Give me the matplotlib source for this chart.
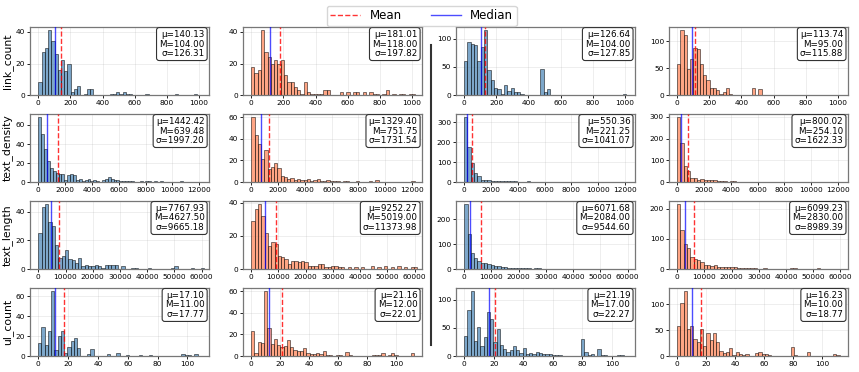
#!/usr/bin/env python

import numpy as np
import matplotlib
matplotlib.use('Agg')
import matplotlib.pyplot as plt
from matplotlib.lines import Line2D
from matplotlib.ticker import MaxNLocator

features = ['link_count', 'text_density', 'text_length', 'ul_count']

# histogram counts, 50 bins per panel (row = feature, col = group)
counts = [
    [
        [8, 27, 30, 41, 34, 26, 16, 22, 15, 20, 2, 4, 6, 0, 1, 4, 4, 0, 0, 0, 0, 0, 1, 1, 2, 1, 2, 1, 1, 0,
         0, 0, 0, 1, 0, 0, 0, 0, 0, 0, 0, 0, 1, 0, 0, 0, 0, 0, 1, 0],
        [18, 14, 16, 41, 27, 24, 20, 22, 20, 22, 13, 8, 8, 5, 3, 1, 8, 2, 1, 1, 1, 1, 3, 3, 0, 0, 0, 2, 0, 2,
         0, 2, 2, 0, 2, 0, 2, 1, 1, 0, 1, 3, 0, 1, 0, 1, 1, 0, 1, 1],
        [60, 95, 91, 89, 60, 85, 115, 45, 27, 12, 10, 2, 18, 8, 12, 6, 5, 2, 1, 1, 0, 0, 0, 47, 5, 10, 0, 0, 0, 0,
         0, 0, 0, 0, 0, 0, 0, 0, 0, 0, 0, 0, 0, 0, 0, 0, 0, 0, 2, 1],
        [57, 120, 112, 48, 67, 87, 85, 58, 38, 28, 14, 14, 10, 2, 5, 14, 2, 1, 0, 0, 0, 0, 0, 14, 0, 12, 0, 0, 0, 0,
         0, 0, 0, 0, 0, 0, 0, 0, 0, 0, 0, 1, 0, 0, 1, 0, 0, 0, 0, 1],
    ],
    [
        [68, 50, 35, 22, 15, 12, 10, 9, 8, 2, 7, 8, 7, 2, 3, 1, 2, 3, 1, 2, 1, 0, 2, 3, 5, 3, 2, 2, 1, 1,
         1, 1, 1, 0, 0, 1, 0, 1, 1, 0, 1, 0, 1, 0, 0, 0, 0, 0, 0, 1],
        [60, 44, 35, 21, 30, 12, 14, 18, 13, 6, 5, 3, 4, 2, 3, 2, 2, 3, 1, 2, 3, 1, 1, 2, 1, 1, 1, 0, 1, 1,
         0, 0, 1, 0, 0, 0, 1, 0, 2, 0, 0, 0, 0, 0, 0, 0, 0, 0, 0, 1],
        [325, 175, 95, 45, 32, 12, 12, 8, 6, 6, 4, 5, 3, 4, 4, 3, 2, 2, 2, 3, 1, 1, 1, 1, 1, 1, 0, 0, 0, 0,
         0, 0, 0, 0, 0, 0, 0, 0, 0, 0, 0, 0, 0, 0, 0, 0, 0, 0, 0, 1],
        [298, 182, 75, 52, 20, 20, 10, 12, 8, 8, 8, 8, 3, 4, 4, 2, 3, 3, 2, 2, 1, 1, 1, 0, 1, 0, 0, 1, 1, 0,
         0, 0, 1, 0, 0, 0, 1, 0, 1, 0, 0, 0, 0, 1, 0, 0, 0, 0, 0, 1],
    ],
    [
        [25, 43, 45, 33, 30, 17, 8, 9, 13, 7, 6, 4, 8, 2, 3, 2, 2, 3, 2, 1, 3, 3, 3, 3, 0, 2, 0, 0, 1, 1,
         0, 0, 0, 1, 0, 0, 0, 0, 0, 0, 1, 2, 0, 0, 0, 0, 1, 0, 0, 1],
        [29, 36, 39, 32, 22, 14, 16, 15, 8, 7, 6, 3, 5, 5, 4, 5, 4, 2, 2, 2, 3, 3, 1, 1, 2, 2, 1, 1, 0, 1,
         0, 1, 0, 1, 0, 0, 2, 0, 1, 0, 2, 0, 1, 0, 2, 0, 1, 0, 1, 1],
        [260, 140, 65, 45, 32, 25, 25, 20, 15, 12, 12, 10, 8, 6, 5, 6, 4, 3, 5, 4, 2, 3, 4, 2, 2, 1, 2, 1, 1, 1,
         1, 1, 0, 1, 1, 0, 0, 0, 1, 0, 0, 1, 0, 0, 0, 1, 0, 0, 0, 1],
        [215, 130, 83, 70, 40, 32, 30, 25, 15, 12, 10, 12, 8, 7, 8, 6, 8, 7, 4, 3, 2, 3, 2, 2, 1, 1, 2, 1, 1, 1,
         1, 0, 1, 0, 3, 3, 0, 1, 0, 0, 1, 0, 2, 0, 0, 1, 0, 1, 0, 1],
    ],
    [
        [13, 29, 11, 25, 65, 6, 20, 25, 3, 9, 15, 18, 8, 0, 0, 2, 7, 0, 0, 0, 0, 2, 0, 0, 3, 0, 0, 1, 0, 0,
         0, 1, 0, 0, 1, 0, 0, 0, 0, 0, 0, 0, 0, 0, 2, 1, 1, 0, 2, 0],
        [23, 3, 13, 12, 60, 26, 11, 16, 10, 8, 9, 15, 8, 6, 5, 5, 7, 3, 2, 2, 3, 2, 5, 1, 1, 0, 1, 1, 0, 4,
         1, 0, 0, 0, 0, 0, 0, 1, 1, 1, 3, 0, 1, 3, 1, 0, 0, 0, 0, 3],
        [36, 82, 115, 27, 52, 17, 34, 78, 66, 25, 48, 20, 12, 8, 10, 17, 10, 6, 14, 3, 6, 4, 8, 6, 4, 3, 4, 2, 1, 1,
         0, 0, 0, 0, 0, 0, 30, 8, 2, 3, 0, 12, 2, 1, 0, 0, 0, 2, 1, 0],
        [57, 102, 125, 53, 58, 33, 27, 52, 20, 45, 30, 45, 28, 10, 5, 8, 15, 2, 7, 4, 2, 3, 0, 0, 5, 7, 3, 3, 2, 0,
         0, 0, 0, 0, 0, 17, 1, 0, 0, 0, 7, 0, 0, 0, 0, 0, 0, 0, 3, 1],
    ],
]

# bin range (min, max) of each panel
bin_ranges = [
    [(0, 1010), (0, 1020), (0, 1030), (0, 1010)],
    [(0, 10800), (0, 12200), (0, 12300), (0, 12300)],
    [(0, 61000), (0, 61000), (0, 61000), (0, 61000)],
    [(0, 109), (0, 112), (0, 110), (0, 112)],
]

means = [[140.13, 181.01, 126.64, 113.74],
         [1442.42, 1329.40, 550.36, 800.02],
         [7767.93, 9252.27, 6071.68, 6099.23],
         [17.10, 21.16, 21.19, 16.23]]
medians = [[104.00, 118.00, 104.00, 95.00],
           [639.48, 751.75, 221.25, 254.10],
           [4627.50, 5019.00, 2084.00, 2830.00],
           [11.00, 12.00, 17.00, 10.00]]
stds = [[126.31, 197.82, 127.85, 115.88],
        [1997.20, 1731.54, 1041.07, 1622.33],
        [9665.18, 11373.98, 9544.60, 8989.39],
        [17.77, 22.01, 22.27, 18.77]]

row_xticks = [range(0, 1001, 200), range(0, 12001, 2000), range(0, 60001, 10000), range(0, 101, 20)]
row_xlim = [(-51, 1062), (-616, 12740), (-3030, 62700), None]
col_colors = ['steelblue', 'coral', 'steelblue', 'coral']

fig, axes = plt.subplots(4, 4, figsize=(8.59, 3.72), dpi=100)
plt.subplots_adjust(left=0.035, right=0.987, top=0.927, bottom=0.043, wspace=0.19, hspace=0.28)

for i in range(4):
    for j in range(4):
        ax = axes[i][j]
        c = np.array(counts[i][j])
        lo, hi = bin_ranges[i][j]
        edges = np.linspace(lo, hi, len(c) + 1)
        ax.bar(edges[:-1], c, width=edges[1] - edges[0], align='edge',
               color=col_colors[j], alpha=0.7, edgecolor='black', linewidth=0.5, zorder=2)
        ax.axvline(means[i][j], color='red', linestyle='--', linewidth=1, alpha=0.8, zorder=3)
        ax.axvline(medians[i][j], color='blue', linestyle='-', linewidth=1, alpha=0.7, zorder=3)
        txt = 'μ=%.2f\nM=%.2f\nσ=%.2f' % (means[i][j], medians[i][j], stds[i][j])
        ax.text(0.975, 0.955, txt, transform=ax.transAxes, ha='right', va='top', fontsize=6.3,
                linespacing=1.05, zorder=5,
                bbox=dict(boxstyle='round,pad=0.3', facecolor='white', edgecolor='#333333', linewidth=0.8))
        ax.set_xticks(list(row_xticks[i]))
        if row_xlim[i] is not None:
            ax.set_xlim(row_xlim[i])
        ax.yaxis.set_major_locator(MaxNLocator(4, steps=[1, 2, 2.5, 5, 10]))
        ax.tick_params(labelsize=5.3, length=2, pad=1.5, width=0.6)
        ax.grid(True, alpha=0.3, linewidth=0.5, zorder=0)
        for s in ax.spines.values():
            s.set_color('#777777')
            s.set_linewidth(0.9)
        if j == 0:
            ax.set_ylabel(features[i], fontsize=7.8, labelpad=2)

handles = [Line2D([0], [0], color='red', linestyle='--', linewidth=1, alpha=0.8, label='Mean'),
           Line2D([0], [0], color='blue', linestyle='-', linewidth=1, alpha=0.7, label='Median')]
fig.legend(handles=handles, loc='upper center', bbox_to_anchor=(0.491, 1.0), ncol=2, fontsize=8.5,
           frameon=True, handlelength=2.5, columnspacing=2.5, borderpad=0.3)

# separator between the two groups of columns
fig.add_artist(Line2D([431 / 859, 431 / 859], [1 - 45 / 372, 1 - 345 / 372], color='#333333', linewidth=1.5))

plt.savefig('out.png', dpi=100)
